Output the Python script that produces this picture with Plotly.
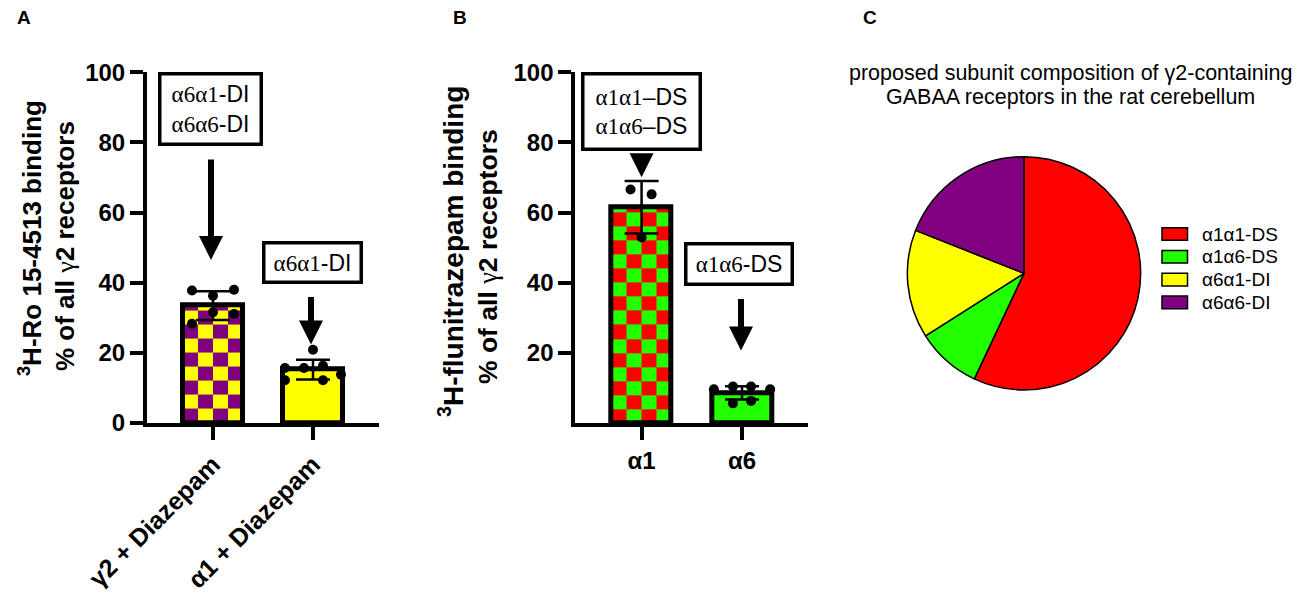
import plotly.graph_objects as go

PAGE_W, PAGE_H = 1300, 595
OFF = 8  # page body margin of the rendered html
W, H = PAGE_W - OFF, PAGE_H - OFF
SANS = "Arial, Liberation Sans, sans-serif"
SERIF = "Times New Roman, Liberation Serif, serif"

PURPLE = "#800080"
YELLOW = "#FFFF00"
RED = "#FF0000"
GREEN = "#22FF00"
CLEAR = "rgba(0,0,0,0)"

# ---------------- data ----------------
A_categories = ["γ2 + Diazepam", "α1 + Diazepam"]
A_means = [33.5, 15.2]
A_sd = [4.1, 2.8]
A_points = [[37.8, 36.3, 38.0, 31.6, 31.1, 28.3],
            [20.9, 15.7, 15.7, 16.3, 12.2, 12.2, 13.8]]
A_jitter = [[-0.21, 0.0, 0.21, 0.0, 0.21, -0.21],
            [0.0, -0.28, -0.09, 0.10, -0.28, 0.10, 0.28]]
A_ticks = [0, 20, 40, 60, 80, 100]

B_categories = ["α1", "α6"]
B_means = [61.5, 8.6]
B_sd = [7.5, 1.9]
B_points = [[66.6, 65.2, 52.9],
            [9.6, 10.4, 10.4, 9.6, 5.6, 6.3]]
B_jitter = [[-0.11, 0.10, 0.0],
            [-0.28, -0.09, 0.09, 0.28, -0.09, 0.09]]
B_ticks = [20, 40, 60, 80, 100]

pie_labels = ["α1α1-DS", "α1α6-DS", "α6α1-DI", "α6α6-DI"]
pie_values = [57, 9, 15, 19]
pie_colors = [RED, GREEN, YELLOW, PURPLE]
pie_title = ["proposed subunit composition of γ2-containing",
             "GABAA receptors in the rat cerebellum"]

BAR_W = 0.6
CELL_H = 4.0
NCOLS = 4


def px_x(p):
    return (p - OFF) / W


def px_y(p):
    return 1 - (p - OFF) / H


def checker(cx, value, c0, c1, xa, ya):
    left = cx - BAR_W / 2
    xe = [left + k * BAR_W / NCOLS for k in range(NCOLS + 1)]
    ye = []
    y = 0.0
    while y < value - 1e-9:
        ye.append(y)
        y += CELL_H
    ye.append(value)
    z = [[(i + j) % 2 for j in range(NCOLS)] for i in range(len(ye) - 1)]
    return go.Heatmap(x=xe, y=ye, z=z, zmin=0, zmax=1, showscale=False,
                      colorscale=[[0, c0], [0.5, c0], [0.5, c1], [1, c1]],
                      hoverinfo="skip", xaxis=xa, yaxis=ya, zsmooth=False)


fig = go.Figure()

# ---------------- panel A ----------------
fig.add_trace(checker(0, A_means[0], PURPLE, YELLOW, "x", "y"))
fig.add_trace(go.Bar(
    x=list(range(len(A_categories))), y=A_means, width=BAR_W,
    marker=dict(color=[CLEAR, YELLOW], line=dict(color="black", width=5)),
    error_y=dict(type="data", array=A_sd, visible=True, color="black",
                 thickness=2.5, width=17),
    xaxis="x", yaxis="y", hoverinfo="skip"))
ax_, ay_ = [], []
for i, (pts, jit) in enumerate(zip(A_points, A_jitter)):
    for v, j in zip(pts, jit):
        ax_.append(i + j)
        ay_.append(v)
fig.add_trace(go.Scatter(x=ax_, y=ay_, mode="markers",
                         marker=dict(color="black", size=10),
                         xaxis="x", yaxis="y", hoverinfo="skip"))

# ---------------- panel B ----------------
fig.add_trace(checker(0, B_means[0], RED, GREEN, "x2", "y2"))
fig.add_trace(go.Bar(
    x=list(range(len(B_categories))), y=B_means, width=BAR_W,
    marker=dict(color=[CLEAR, GREEN], line=dict(color="black", width=5)),
    error_y=dict(type="data", array=B_sd, visible=True, color="black",
                 thickness=2.5, width=17),
    xaxis="x2", yaxis="y2", hoverinfo="skip"))
bx_, by_ = [], []
for i, (pts, jit) in enumerate(zip(B_points, B_jitter)):
    for v, j in zip(pts, jit):
        bx_.append(i + j)
        by_.append(v)
fig.add_trace(go.Scatter(x=bx_, y=by_, mode="markers",
                         marker=dict(color="black", size=10),
                         xaxis="x2", yaxis="y2", hoverinfo="skip"))

# ---------------- panel C ----------------
fig.add_trace(go.Pie(
    labels=pie_labels, values=pie_values, sort=False, direction="clockwise",
    rotation=0, textinfo="none", hoverinfo="label+value",
    marker=dict(colors=pie_colors, line=dict(color="black", width=1.5)),
    domain=dict(x=[px_x(907.3), px_x(1140.7)], y=[px_y(390), px_y(156.7)]),
    showlegend=False))

# ---------------- axes ----------------
ydom = [px_y(423), px_y(72.3)]
axis_common = dict(showline=True, linewidth=4, linecolor="black", ticks="outside",
                   ticklen=13, tickwidth=3.5, tickcolor="black", showgrid=False,
                   zeroline=False, fixedrange=True, automargin=False)
tickfont = dict(family=SANS, size=24, color="black", weight="bold")
tickfont_rot = dict(family=SANS, size=25, color="black", weight="bold")

fig.update_layout(
    width=W, height=H,
    margin=dict(l=0, r=0, t=0, b=0, pad=0, autoexpand=False),
    paper_bgcolor="white", plot_bgcolor="white", showlegend=False,
    bargap=0,
    xaxis=dict(domain=[px_x(147), px_x(379)], range=[-0.66, 1.66],
               tickmode="array", tickvals=list(range(len(A_categories))),
               ticktext=A_categories, tickangle=-45, tickfont=tickfont_rot,
               anchor="y", **axis_common),
    yaxis=dict(domain=ydom, range=[0, 100], tickmode="array", tickvals=A_ticks,
               tickfont=tickfont, anchor="x", **axis_common),
    xaxis2=dict(domain=[px_x(575.3), px_x(808.3)], range=[-0.66, 1.66],
                tickmode="array", tickvals=list(range(len(B_categories))),
                ticktext=B_categories, tickangle=0, tickfont=tickfont,
                anchor="y2", **axis_common),
    yaxis2=dict(domain=ydom, range=[0, 100], tickmode="array", tickvals=B_ticks,
                tickfont=tickfont, anchor="x2", **axis_common),
)

# ---------------- annotations ----------------
def sans(s):
    return f'<span style="font-family:Arial, Liberation Sans, sans-serif">{s}</span>'


def box(xref, yref, x, ytop, text, w, h, size):
    return dict(xref=xref, yref=yref, x=x, y=ytop, xanchor="center", yanchor="top",
                text=text, showarrow=False, bordercolor="black", borderwidth=3.5,
                borderpad=0, width=w, height=h, bgcolor="white", align="center",
                valign="middle", font=dict(family=SERIF, size=size, color="black"))


def arrow(xref, yref, x, ytail, ytip):
    return dict(xref=xref, yref=yref, axref=xref, ayref=yref, x=x, y=ytip,
                ax=x, ay=ytail, text=" ", showarrow=True, arrowhead=2,
                arrowsize=0.8, arrowwidth=6, arrowcolor="black", standoff=0)


annots = [
    box("x", "y", -0.03, 100, "α6α1" + sans("-DI") + "<br>α6α6" + sans("-DI"), 98, 67, 23),
    arrow("x", "y", -0.02, 78, 46.5),
    box("x", "y", 0.99, 52, "α6α1" + sans("-DI"), 94, 36, 23),
    arrow("x", "y", 0.98, 38.8, 22.4),
    box("x2", "y2", 0, 100, "α1α1" + sans("–DS") + "<br>α1α6" + sans("–DS"), 114, 72, 23),
    arrow("x2", "y2", 0, 77.4, 70.1),
    box("x2", "y2", 0.97, 51.7, "α1α6" + sans("-DS"), 103, 37, 23),
    arrow("x2", "y2", 0.99, 38.2, 20.7),
]

gamma = '<span style="font-family:Times New Roman, Liberation Serif, serif;font-weight:normal">γ</span>'
for xc, yc, txt, fs in [
    (30, 238, "<sup>3</sup>H-Ro 15-4513 binding", 26),
    (65, 246, f"% of all {gamma}2 receptors", 26),
    (451, 252, "<sup>3</sup>H-flunitrazepam binding", 28),
    (488, 257, f"% of all {gamma}2 receptors", 26.5),
]:
    annots.append(dict(xref="paper", yref="paper", x=px_x(xc), y=px_y(yc),
                       xanchor="center", yanchor="middle", text=txt, textangle=-90,
                       showarrow=False,
                       font=dict(family=SANS, size=fs, color="black", weight="bold")))

for letter, xc in [("A", 23.5), ("B", 459.5), ("C", 870)]:
    annots.append(dict(xref="paper", yref="paper", x=px_x(xc), y=px_y(17),
                       xanchor="center", yanchor="middle", text=letter,
                       showarrow=False,
                       font=dict(family=SANS, size=19, color="black", weight="bold")))

for k, line in enumerate(pie_title):
    annots.append(dict(xref="paper", yref="paper", x=px_x(1070), y=px_y(73 + 24 * k),
                       xanchor="center", yanchor="middle", text=line,
                       showarrow=False, font=dict(family=SANS, size=21.5, color="black")))

shapes = []
for i, (lab, col) in enumerate(zip(pie_labels, pie_colors)):
    yc = 234 + i * 22.8
    shapes.append(dict(type="rect", xref="paper", yref="paper",
                       x0=px_x(1162), x1=px_x(1187.5), y0=px_y(yc + 6.3), y1=px_y(yc - 6.3),
                       fillcolor=col, line=dict(color="black", width=1.5)))
    annots.append(dict(xref="paper", yref="paper", x=px_x(1200), y=px_y(yc),
                       xanchor="left", yanchor="middle", text=lab, showarrow=False,
                       font=dict(family=SANS, size=19, color="black")))

fig.update_layout(annotations=annots, shapes=shapes)

fig.write_html("out.html")
